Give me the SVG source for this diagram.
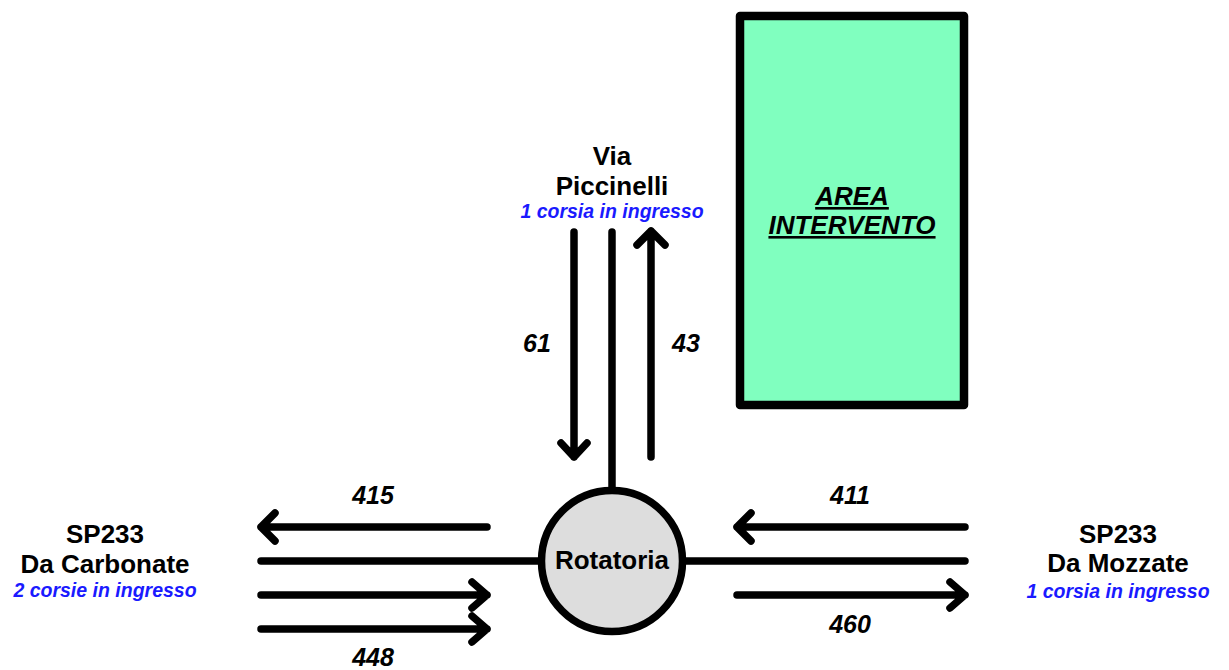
<svg xmlns="http://www.w3.org/2000/svg" width="1229" height="670" viewBox="0 0 1229 670">
<style>
.ln{stroke:#000;stroke-width:7.5;stroke-linecap:round;stroke-linejoin:round;fill:none}
.t{font-family:"Liberation Sans",Arial,sans-serif;font-weight:bold;font-size:26px;fill:#000;text-anchor:middle}
.n{font-family:"Liberation Sans",Arial,sans-serif;font-weight:bold;font-style:italic;font-size:25px;fill:#000;text-anchor:middle}
.b{font-family:"Liberation Sans",Arial,sans-serif;font-weight:bold;font-style:italic;font-size:19.5px;fill:#1a1aff;text-anchor:middle}
</style>
<rect width="1229" height="670" fill="#fff"/>
<g id="connectors">
<path class="ln" d="M574,232 V457 M561,443 L574,457 L587,443"/>
<path class="ln" d="M612,232 V490"/>
<path class="ln" d="M651,457 V231 M637,245 L651,231 L665,245"/>
<path class="ln" d="M487,527 H261 M275,513 L261,527 L275,541"/>
<path class="ln" d="M261,561 H540"/>
<path class="ln" d="M261,595 H487 M472,582 L487,595 L472,608"/>
<path class="ln" d="M261,629 H487 M472,616 L487,629 L472,642"/>
<path class="ln" d="M965,527 H737 M751,513 L737,527 L751,541"/>
<path class="ln" d="M684,561 H965"/>
<path class="ln" d="M737,595 H965 M950,582 L965,595 L950,608"/>
</g>
<g id="labels">
<text class="n" x="537" y="352">61</text>
<text class="n" x="686" y="352">43</text>
<text class="n" x="373" y="504">415</text>
<text class="n" x="373" y="666">448</text>
<text class="n" x="850" y="504">411</text>
<text class="n" x="850" y="633">460</text>
</g>
<g id="area-intervento">
<rect x="740" y="16" width="224" height="389" fill="#80FFBF" stroke="#000" stroke-width="8.5" stroke-linejoin="round"/>
<text class="n" x="852" y="205" style="font-size:26px;text-decoration:underline">AREA</text>
<text class="n" x="852" y="234" style="font-size:26px;text-decoration:underline">INTERVENTO</text>
</g>
<g id="rotatoria">
<circle cx="612" cy="561" r="70.5" fill="#DDDDDD" stroke="#000" stroke-width="7.5"/>
<text class="t" x="612" y="569">Rotatoria</text>
</g>
<g id="via-piccinelli">
<text class="t" x="612" y="165">Via</text>
<text class="t" x="612" y="195">Piccinelli</text>
<text class="b" x="612" y="218">1 corsia in ingresso</text>
</g>
<g id="sp233-carbonate">
<text class="t" x="105" y="543">SP233</text>
<text class="t" x="105" y="573">Da Carbonate</text>
<text class="b" x="105" y="597">2 corsie in ingresso</text>
</g>
<g id="sp233-mozzate">
<text class="t" x="1118" y="543">SP233</text>
<text class="t" x="1118" y="572">Da Mozzate</text>
<text class="b" x="1118" y="598">1 corsia in ingresso</text>
</g>
</svg>
